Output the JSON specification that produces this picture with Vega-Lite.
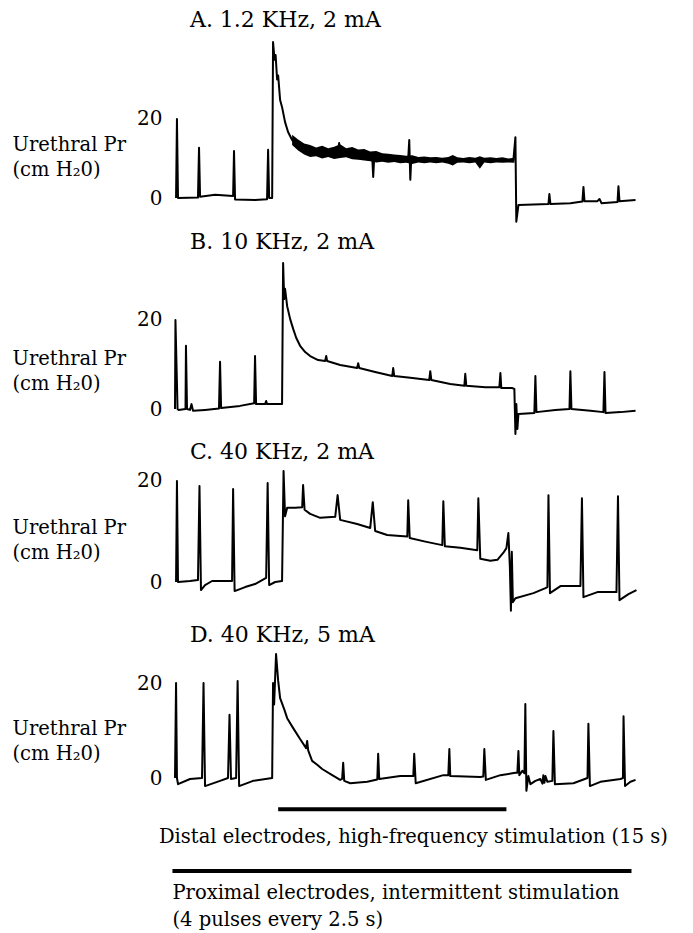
{
  "$schema": "https://vega.github.io/schema/vega-lite/v6.json",
  "background": "white",
  "padding": {"left": 12, "top": 9, "right": 5, "bottom": 0},
  "spacing": 4,
  "datasets": {
    "A": [
      {"t": 0.07, "p": 0}, {"t": 0.13, "p": 20}, {"t": 0.2, "p": 0}, {"t": 1.53, "p": 0.1}, {"t": 1.6, "p": 12.7}, {"t": 1.67, "p": 0.3},
      {"t": 2.67, "p": 0.8}, {"t": 3.87, "p": 0.5}, {"t": 3.93, "p": 11.9}, {"t": 4.0, "p": -0.4}, {"t": 5.33, "p": -0.5}, {"t": 6.13, "p": -0.3},
      {"t": 6.2, "p": 12.2}, {"t": 6.27, "p": 0}, {"t": 6.47, "p": 0}, {"t": 6.53, "p": 39.5}, {"t": 6.63, "p": 35}, {"t": 6.7, "p": 36.2},
      {"t": 6.8, "p": 30}, {"t": 6.87, "p": 31}, {"t": 7.0, "p": 24.8}, {"t": 7.13, "p": 23}, {"t": 7.33, "p": 19.2}, {"t": 7.53, "p": 16.7},
      {"t": 7.8, "p": 14.7}, {"t": 8.13, "p": 13.4}, {"t": 8.53, "p": 12.4}, {"t": 9.0, "p": 11.9}, {"t": 9.67, "p": 11.4}, {"t": 10.33, "p": 11.6},
      {"t": 10.87, "p": 12.0}, {"t": 10.93, "p": 13.9}, {"t": 11.0, "p": 11.2}, {"t": 11.67, "p": 11.4}, {"t": 12.33, "p": 10.9}, {"t": 13.13, "p": 10.6},
      {"t": 13.2, "p": 5.3}, {"t": 13.27, "p": 10.5}, {"t": 13.67, "p": 10.3}, {"t": 14.33, "p": 10.1}, {"t": 15.0, "p": 9.9}, {"t": 15.53, "p": 9.9},
      {"t": 15.6, "p": 14.7}, {"t": 15.67, "p": 4.6}, {"t": 15.73, "p": 9.8}, {"t": 17.0, "p": 9.6}, {"t": 18.33, "p": 9.6}, {"t": 19.67, "p": 9.5},
      {"t": 21.0, "p": 9.4}, {"t": 22.53, "p": 9.4}, {"t": 22.67, "p": 15.4}, {"t": 22.73, "p": -6}, {"t": 22.87, "p": -1.8}, {"t": 24.87, "p": -1.5},
      {"t": 24.93, "p": 1.0}, {"t": 25.0, "p": -1.5}, {"t": 26.33, "p": -1.3}, {"t": 27.13, "p": -0.9}, {"t": 27.2, "p": 2.8}, {"t": 27.27, "p": -0.8},
      {"t": 28.13, "p": -0.8}, {"t": 28.27, "p": -0.25}, {"t": 28.4, "p": -1.3}, {"t": 29.47, "p": -1.0}, {"t": 29.53, "p": 3.0}, {"t": 29.6, "p": -0.8},
      {"t": 30.67, "p": -0.5}
    ],
    "Aband": [
      {"t": 7.8, "lo": 13.4, "hi": 16.0}, {"t": 8.2, "lo": 12.0, "hi": 14.8}, {"t": 8.6, "lo": 11.0, "hi": 13.8}, {"t": 9.0, "lo": 10.4, "hi": 13.4},
      {"t": 9.4, "lo": 10.6, "hi": 12.8}, {"t": 9.8, "lo": 10.0, "hi": 13.2}, {"t": 10.2, "lo": 10.4, "hi": 12.6}, {"t": 10.6, "lo": 9.9, "hi": 13.0},
      {"t": 11.0, "lo": 10.1, "hi": 13.6}, {"t": 11.4, "lo": 10.3, "hi": 12.6}, {"t": 11.8, "lo": 9.8, "hi": 12.9}, {"t": 12.2, "lo": 9.7, "hi": 12.3},
      {"t": 12.6, "lo": 9.5, "hi": 12.4}, {"t": 13.0, "lo": 9.3, "hi": 11.8}, {"t": 13.4, "lo": 9.0, "hi": 11.9}, {"t": 13.8, "lo": 9.2, "hi": 11.3},
      {"t": 14.2, "lo": 8.9, "hi": 11.2}, {"t": 14.6, "lo": 9.1, "hi": 11.0}, {"t": 15.0, "lo": 8.8, "hi": 10.9}, {"t": 15.4, "lo": 8.9, "hi": 10.7},
      {"t": 15.8, "lo": 8.6, "hi": 10.8}, {"t": 16.2, "lo": 9.0, "hi": 10.4}, {"t": 16.6, "lo": 8.8, "hi": 10.5}, {"t": 17.0, "lo": 9.0, "hi": 10.3},
      {"t": 17.4, "lo": 8.8, "hi": 10.4}, {"t": 17.8, "lo": 9.0, "hi": 10.2}, {"t": 18.2, "lo": 8.7, "hi": 10.4}, {"t": 18.5, "lo": 8.2, "hi": 10.9},
      {"t": 18.8, "lo": 8.9, "hi": 10.3}, {"t": 19.2, "lo": 9.0, "hi": 10.1}, {"t": 19.6, "lo": 8.8, "hi": 10.4}, {"t": 20.0, "lo": 9.0, "hi": 10.2},
      {"t": 20.3, "lo": 7.4, "hi": 10.6}, {"t": 20.6, "lo": 9.0, "hi": 10.2}, {"t": 21.0, "lo": 8.8, "hi": 10.3}, {"t": 21.4, "lo": 9.0, "hi": 10.1},
      {"t": 21.8, "lo": 8.9, "hi": 10.3}, {"t": 22.2, "lo": 9.0, "hi": 10.0}, {"t": 22.6, "lo": 8.9, "hi": 10.2}
    ],
    "B": [
      {"t": 0.0, "p": 0}, {"t": 0.03, "p": 20}, {"t": 0.17, "p": 0}, {"t": 0.23, "p": -0.2}, {"t": 0.7, "p": 0}, {"t": 0.73, "p": 14.2},
      {"t": 0.8, "p": 0}, {"t": 1.0, "p": -0.2}, {"t": 1.1, "p": 1.1}, {"t": 1.2, "p": -0.4}, {"t": 2.0, "p": -0.2}, {"t": 2.93, "p": 0.1},
      {"t": 3.0, "p": 10.6}, {"t": 3.07, "p": 0.2}, {"t": 4.33, "p": 0.7}, {"t": 5.27, "p": 1.3}, {"t": 5.33, "p": 11.9}, {"t": 5.4, "p": 1.1},
      {"t": 6.0, "p": 1.1}, {"t": 6.07, "p": 1.8}, {"t": 6.13, "p": 1.1}, {"t": 7.13, "p": 1.1}, {"t": 7.2, "p": 32.8}, {"t": 7.27, "p": 24.7},
      {"t": 7.33, "p": 27}, {"t": 7.47, "p": 23.1}, {"t": 7.67, "p": 20.2}, {"t": 7.87, "p": 18}, {"t": 8.07, "p": 16}, {"t": 8.33, "p": 14.2},
      {"t": 8.67, "p": 12.8}, {"t": 9.0, "p": 11.9}, {"t": 9.53, "p": 11}, {"t": 10.0, "p": 10.8}, {"t": 10.07, "p": 11.9}, {"t": 10.13, "p": 10.8},
      {"t": 11.0, "p": 9.9}, {"t": 12.13, "p": 9.2}, {"t": 12.2, "p": 10.3}, {"t": 12.27, "p": 9.2}, {"t": 13.33, "p": 8.3}, {"t": 14.47, "p": 7.4},
      {"t": 14.53, "p": 9.2}, {"t": 14.6, "p": 7.4}, {"t": 15.67, "p": 7.0}, {"t": 16.93, "p": 6.5}, {"t": 17.0, "p": 8.5}, {"t": 17.07, "p": 6.5},
      {"t": 18.33, "p": 5.6}, {"t": 19.27, "p": 5.2}, {"t": 19.33, "p": 7.9}, {"t": 19.4, "p": 5.2}, {"t": 20.67, "p": 4.9}, {"t": 21.6, "p": 4.9},
      {"t": 21.67, "p": 8.1}, {"t": 21.73, "p": 4.7}, {"t": 22.47, "p": 4.7}, {"t": 22.6, "p": 4.5}, {"t": 22.67, "p": -5.6}, {"t": 22.73, "p": 1.1},
      {"t": 22.8, "p": -4.5}, {"t": 22.87, "p": -1.1}, {"t": 23.93, "p": -0.9}, {"t": 24.0, "p": 7.4}, {"t": 24.07, "p": -0.7}, {"t": 25.33, "p": -0.2},
      {"t": 26.27, "p": 0}, {"t": 26.33, "p": 8.5}, {"t": 26.4, "p": 0}, {"t": 27.67, "p": -0.4}, {"t": 28.53, "p": -0.7}, {"t": 28.6, "p": 8.3},
      {"t": 28.67, "p": -0.9}, {"t": 29.67, "p": -0.7}, {"t": 30.67, "p": -0.4}
    ],
    "C": [
      {"t": 0.07, "p": 0}, {"t": 0.13, "p": 20}, {"t": 0.2, "p": 0}, {"t": 1.0, "p": 0.2}, {"t": 1.53, "p": 0.4}, {"t": 1.63, "p": 19},
      {"t": 1.73, "p": -1.6}, {"t": 2.0, "p": -0.6}, {"t": 2.47, "p": 0.2}, {"t": 3.8, "p": 0.2}, {"t": 3.87, "p": 18.4}, {"t": 3.97, "p": -1.8},
      {"t": 4.67, "p": -1.0}, {"t": 5.33, "p": -0.4}, {"t": 6.07, "p": 0.8}, {"t": 6.17, "p": 19.6}, {"t": 6.27, "p": -0.6}, {"t": 6.67, "p": 0.0},
      {"t": 7.13, "p": 0.2}, {"t": 7.23, "p": 22}, {"t": 7.33, "p": 13}, {"t": 7.47, "p": 14.7}, {"t": 8.0, "p": 14.7}, {"t": 8.47, "p": 14.8},
      {"t": 8.53, "p": 19.2}, {"t": 8.63, "p": 14.3}, {"t": 9.0, "p": 13.5}, {"t": 9.67, "p": 12.7}, {"t": 10.67, "p": 12.9}, {"t": 10.83, "p": 17.2},
      {"t": 11.0, "p": 12.3}, {"t": 12.13, "p": 11.5}, {"t": 13.0, "p": 10.7}, {"t": 13.17, "p": 15.8}, {"t": 13.33, "p": 10.1}, {"t": 14.13, "p": 9.3},
      {"t": 15.0, "p": 9.1}, {"t": 15.47, "p": 9.0}, {"t": 15.53, "p": 16.2}, {"t": 15.63, "p": 8.7}, {"t": 16.67, "p": 8.0}, {"t": 17.8, "p": 7.3},
      {"t": 17.87, "p": 16.0}, {"t": 17.97, "p": 7.1}, {"t": 19.0, "p": 6.8}, {"t": 20.13, "p": 6.3}, {"t": 20.2, "p": 16.6}, {"t": 20.33, "p": 4.6},
      {"t": 21.0, "p": 4.2}, {"t": 21.47, "p": 4.4}, {"t": 21.87, "p": 5.8}, {"t": 22.07, "p": 6.7}, {"t": 22.2, "p": 9.7}, {"t": 22.3, "p": 3.0},
      {"t": 22.37, "p": -5.7}, {"t": 22.43, "p": 6.0}, {"t": 22.5, "p": -4.0}, {"t": 22.67, "p": -3.2}, {"t": 23.87, "p": -2.2}, {"t": 24.67, "p": -1.2},
      {"t": 24.8, "p": -1.0}, {"t": 24.87, "p": 17.2}, {"t": 24.97, "p": -2.2}, {"t": 25.67, "p": -0.8}, {"t": 27.0, "p": -0.8}, {"t": 27.1, "p": 16.6},
      {"t": 27.2, "p": -3.0}, {"t": 28.13, "p": -2.0}, {"t": 29.4, "p": -2.0}, {"t": 29.5, "p": 17}, {"t": 29.6, "p": -3.6}, {"t": 30.2, "p": -2.4},
      {"t": 30.73, "p": -1.6}
    ],
    "D": [
      {"t": 0.0, "p": 0}, {"t": 0.07, "p": 20}, {"t": 0.13, "p": 0}, {"t": 0.2, "p": -1.3}, {"t": 1.0, "p": -0.2}, {"t": 1.8, "p": 0},
      {"t": 1.9, "p": 20}, {"t": 2.0, "p": -1.7}, {"t": 3.0, "p": -0.6}, {"t": 3.53, "p": 0}, {"t": 3.63, "p": 13.3}, {"t": 3.73, "p": -0.2},
      {"t": 4.07, "p": 0}, {"t": 4.17, "p": 20.4}, {"t": 4.27, "p": -1.7}, {"t": 5.2, "p": -0.6}, {"t": 6.47, "p": 0}, {"t": 6.53, "p": 20},
      {"t": 6.6, "p": 15.5}, {"t": 6.73, "p": 26.1}, {"t": 6.87, "p": 20.5}, {"t": 7.0, "p": 16.8}, {"t": 7.27, "p": 14.5}, {"t": 7.47, "p": 12.6},
      {"t": 7.87, "p": 10.5}, {"t": 8.33, "p": 8.2}, {"t": 8.73, "p": 6.3}, {"t": 8.8, "p": 7.8}, {"t": 8.87, "p": 5.8}, {"t": 9.13, "p": 3.6},
      {"t": 9.47, "p": 2.8}, {"t": 9.8, "p": 1.9}, {"t": 10.47, "p": 0.6}, {"t": 11.0, "p": -0.4}, {"t": 11.13, "p": -0.2}, {"t": 11.2, "p": 3.2},
      {"t": 11.27, "p": -0.6}, {"t": 11.67, "p": -1.1}, {"t": 12.8, "p": -0.8}, {"t": 13.47, "p": -0.3}, {"t": 13.53, "p": 5.1}, {"t": 13.6, "p": -0.2},
      {"t": 14.53, "p": 0.2}, {"t": 15.0, "p": 0.4}, {"t": 15.87, "p": 0.4}, {"t": 15.93, "p": 5.1}, {"t": 16.03, "p": -1.1}, {"t": 17.87, "p": 0.6},
      {"t": 18.2, "p": 0.6}, {"t": 18.27, "p": 6.1}, {"t": 18.33, "p": 0.4}, {"t": 20.33, "p": 0.2}, {"t": 20.53, "p": 0.3}, {"t": 20.6, "p": 6.1},
      {"t": 20.7, "p": -0.4}, {"t": 21.67, "p": 0.6}, {"t": 22.67, "p": 1.1}, {"t": 22.8, "p": 1.1}, {"t": 22.87, "p": 5.7}, {"t": 22.93, "p": 0.6},
      {"t": 23.13, "p": 1.5}, {"t": 23.27, "p": 1.0}, {"t": 23.33, "p": 15.6}, {"t": 23.4, "p": -2.7}, {"t": 23.53, "p": 0.4}, {"t": 23.67, "p": -1.3},
      {"t": 24.0, "p": -0.6}, {"t": 24.33, "p": -0.2}, {"t": 24.47, "p": -1.2}, {"t": 24.53, "p": 0.6}, {"t": 24.6, "p": -1.0}, {"t": 24.67, "p": 0.4},
      {"t": 24.8, "p": -0.8}, {"t": 25.13, "p": -0.6}, {"t": 25.2, "p": 9.9}, {"t": 25.3, "p": -1.3}, {"t": 26.53, "p": -1.1}, {"t": 27.47, "p": 0},
      {"t": 27.53, "p": 11.4}, {"t": 27.63, "p": -1.7}, {"t": 28.33, "p": -0.8}, {"t": 29.67, "p": -0.2}, {"t": 29.83, "p": 0}, {"t": 29.87, "p": 13},
      {"t": 29.97, "p": -1.7}, {"t": 30.33, "p": -0.8}, {"t": 30.67, "p": -0.4}
    ],
    "stim": [
      {"electrodes": "distal", "label": "Distal electrodes, high-frequency stimulation (15 s)", "start": 6.87, "end": 22.07},
      {"electrodes": "proximal", "label": "Proximal electrodes, intermittent stimulation\n(4 pulses every 2.5 s)", "start": -0.17, "end": 30.4}
    ]
  },
  "config": {
    "view": {"stroke": null},
    "font": "DejaVu Serif, serif",
    "title": {"font": "DejaVu Serif, serif", "fontSize": 22, "fontWeight": "normal", "color": "black", "anchor": "start", "frame": "group", "dx": 15, "offset": 0, "baseline": "alphabetic"},
    "axisY": {"ticks": false, "domain": false, "grid": false, "labelFont": "DejaVu Serif, serif", "labelFontSize": 20, "labelColor": "black", "labelPadding": 13, "titleFont": "DejaVu Serif, serif", "titleFontSize": 19.5, "titleFontWeight": "normal", "titleColor": "black", "titleAngle": 0, "titleAlign": "left", "titleBaseline": "alphabetic", "titleLineHeight": 25},
    "line": {"color": "black", "strokeWidth": 2, "strokeJoin": "round"},
    "area": {"color": "black"},
    "rule": {"color": "black", "strokeWidth": 4},
    "text": {"font": "DejaVu Serif, serif", "fontSize": 19.5, "color": "black", "align": "left", "baseline": "alphabetic", "lineBreak": "\n", "lineHeight": 27}
  },
  "vconcat": [
    {
      "title": "A.  1.2 KHz, 2 mA",
      "width": 461,
      "height": 191,
      "layer": [
        {
          "data": {"name": "Aband"},
          "mark": {"type": "area"},
          "encoding": {
            "x": {"field": "t", "type": "quantitative", "scale": {"domain": [0, 30.7], "nice": false, "zero": false}, "axis": null},
            "y": {"field": "lo", "type": "quantitative"},
            "y2": {"field": "hi"}
          }
        },
        {
          "data": {"name": "A"},
          "mark": {"type": "line"},
          "encoding": {
            "x": {"field": "t", "type": "quantitative", "scale": {"domain": [0, 30.7], "nice": false, "zero": false}, "axis": null},
            "y": {"field": "p", "type": "quantitative", "scale": {"domain": [-7.34, 41.01], "nice": false, "zero": false},
                  "axis": {"values": [0, 20], "title": ["Urethral Pr", "(cm H₂0)"], "titleX": -163, "titleY": 114}}
          }
        }
      ]
    },
    {
      "title": "B. 10 KHz, 2 mA",
      "width": 461,
      "height": 179,
      "data": {"name": "B"},
      "mark": {"type": "line"},
      "encoding": {
        "x": {"field": "t", "type": "quantitative", "scale": {"domain": [0, 30.7], "nice": false, "zero": false}, "axis": null},
        "y": {"field": "p", "type": "quantitative", "scale": {"domain": [-6.29, 33.93], "nice": false, "zero": false},
              "axis": {"values": [0, 20], "title": ["Urethral Pr", "(cm H₂0)"], "titleX": -163, "titleY": 106}}
      }
    },
    {
      "title": "C. 40 KHz, 2 mA",
      "width": 461,
      "height": 152,
      "data": {"name": "C"},
      "mark": {"type": "line"},
      "encoding": {
        "x": {"field": "t", "type": "quantitative", "scale": {"domain": [0, 30.7], "nice": false, "zero": false}, "axis": null},
        "y": {"field": "p", "type": "quantitative", "scale": {"domain": [-7.52, 22.57], "nice": false, "zero": false},
              "axis": {"values": [0, 20], "title": ["Urethral Pr", "(cm H₂0)"], "titleX": -163, "titleY": 65}}
      }
    },
    {
      "title": "D. 40 KHz, 5 mA",
      "width": 461,
      "height": 280,
      "layer": [
        {
          "data": {"name": "D"},
          "mark": {"type": "line"},
          "encoding": {
            "x": {"field": "t", "type": "quantitative", "scale": {"domain": [0, 30.7], "nice": false, "zero": false}, "axis": null},
            "y": {"field": "p", "type": "quantitative", "scale": {"domain": [-32.21, 26.74], "nice": false, "zero": false},
                  "axis": {"values": [0, 20], "title": ["Urethral Pr", "(cm H₂0)"], "titleX": -163, "titleY": 83}}
          }
        },
        {
          "data": {"name": "stim"},
          "transform": [{"filter": "datum.electrodes === 'distal'"}],
          "mark": {"type": "rule"},
          "encoding": {
            "x": {"field": "start", "type": "quantitative"},
            "x2": {"field": "end"},
            "y": {"datum": -6.6}
          }
        },
        {
          "data": {"name": "stim"},
          "transform": [{"filter": "datum.electrodes === 'proximal'"}],
          "mark": {"type": "rule"},
          "encoding": {
            "x": {"field": "start", "type": "quantitative"},
            "x2": {"field": "end"},
            "y": {"datum": -19.6}
          }
        },
        {
          "data": {"name": "stim"},
          "transform": [{"filter": "datum.electrodes === 'distal'"}],
          "mark": {"type": "text"},
          "encoding": {
            "x": {"datum": -1.07},
            "y": {"datum": -13.7},
            "text": {"field": "label"}
          }
        },
        {
          "data": {"name": "stim"},
          "transform": [{"filter": "datum.electrodes === 'proximal'"}],
          "mark": {"type": "text"},
          "encoding": {
            "x": {"datum": -0.17},
            "y": {"datum": -25.5},
            "text": {"field": "label"}
          }
        }
      ]
    }
  ]
}
